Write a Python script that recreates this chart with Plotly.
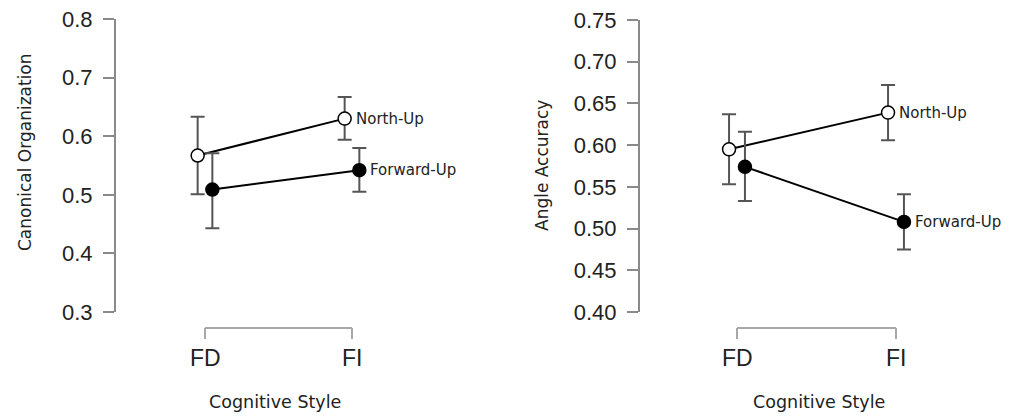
import plotly.graph_objects as go

# The page body has an 8px margin, so the figure is drawn 8px smaller and
# all pixel positions below (measured on the 1021x416 page) are shifted by it.
PAGE_W, PAGE_H = 1021, 416
OFF = 8
W, H = PAGE_W - OFF, PAGE_H - OFF

# ---------------- data ----------------
categories = ["FD", "FI"]
cat_pos = [0, 1]
dodge = 0.05

# Left panel: Canonical Organization
co_north = [0.567, 0.630]
co_north_hi = [0.633, 0.667]
co_north_lo = [0.501, 0.594]
co_forward = [0.509, 0.542]
co_forward_hi = [0.571, 0.580]
co_forward_lo = [0.443, 0.505]
co_ticks = [0.3, 0.4, 0.5, 0.6, 0.7, 0.8]

# Right panel: Angle Accuracy
aa_north = [0.595, 0.639]
aa_north_hi = [0.637, 0.672]
aa_north_lo = [0.553, 0.606]
aa_forward = [0.574, 0.508]
aa_forward_hi = [0.616, 0.541]
aa_forward_lo = [0.533, 0.475]
aa_ticks = [0.40, 0.45, 0.50, 0.55, 0.60, 0.65, 0.70, 0.75]

series_names = ["North-Up", "Forward-Up"]

# ---------------- layout geometry (page pixels) ----------------
L = dict(axis_x=116, fd_x=205, fi_x=352, right_x=495, y_top=19, y_bot=312)
R = dict(axis_x=640, fd_x=737, fi_x=896, right_x=1015, y_top=20, y_bot=312)
bracket_y = 328
bracket_tick = 11
label_y = 358

GRAY = "#8a8a8a"
BRACKET = "#a8a8a8"
TXT = "#222222"
TITLE_FONT = "DejaVu Sans"
TICK_FONT = "Liberation Sans"


def px_x(p):
    return (p - OFF) / W


def px_y(p):
    return 1 - (p - OFF) / H


def xrange_for(g):
    unit = g["fi_x"] - g["fd_x"]
    lo = -(g["fd_x"] - g["axis_x"]) / unit
    hi = (g["right_x"] - g["fd_x"]) / unit
    return [lo, hi]


fig = go.Figure()


def add_panel(xa, ya, vals_n, hi_n, lo_n, vals_f, hi_f, lo_f):
    for name, vals, hi, lo, fill, off in [
        (series_names[0], vals_n, hi_n, lo_n, "white", -dodge),
        (series_names[1], vals_f, hi_f, lo_f, "black", dodge),
    ]:
        xs = [c + off for c in cat_pos]
        fig.add_trace(go.Scatter(
            x=xs, y=vals, xaxis=xa, yaxis=ya, mode="lines+markers",
            name=name, showlegend=False,
            line=dict(color="black", width=2),
            marker=dict(size=13, color=fill, line=dict(color="black", width=1.5)),
            error_y=dict(type="data", symmetric=False,
                         array=[h - v for h, v in zip(hi, vals)],
                         arrayminus=[v - l for v, l in zip(vals, lo)],
                         color="#555555", thickness=2, width=7),
        ))
        fig.add_annotation(
            x=xs[-1], y=vals[-1], xref=xa, yref=ya, text=name,
            showarrow=False, xanchor="left", yanchor="middle", xshift=9,
            font=dict(family=TITLE_FONT, size=15, color=TXT),
        )
    # category bracket below the plot (drawn in data x coordinates)
    yb = px_y(bracket_y)
    yt = px_y(bracket_y + bracket_tick)
    fig.add_shape(type="line", xref=xa, yref="paper", x0=cat_pos[0], x1=cat_pos[-1],
                  y0=yb, y1=yb, line=dict(color=BRACKET, width=2))
    for c, lab in zip(cat_pos, categories):
        fig.add_shape(type="line", xref=xa, yref="paper", x0=c, x1=c,
                      y0=yb, y1=yt, line=dict(color=BRACKET, width=2))
        fig.add_annotation(x=c, y=px_y(label_y), xref=xa, yref="paper", text=lab,
                           showarrow=False, xanchor="center", yanchor="middle",
                           font=dict(family=TICK_FONT, size=23, color=TXT))


add_panel("x", "y", co_north, co_north_hi, co_north_lo,
          co_forward, co_forward_hi, co_forward_lo)
add_panel("x2", "y2", aa_north, aa_north_hi, aa_north_lo,
          aa_forward, aa_forward_hi, aa_forward_lo)

yaxis_common = dict(
    showline=True, linecolor=GRAY, linewidth=2,
    ticks="outside", ticklen=11, tickcolor=GRAY, tickwidth=2,
    showgrid=False, zeroline=False,
    tickfont=dict(family=TICK_FONT, size=22, color=TXT),
    ticklabelstandoff=6, ticklabeloverflow="allow",
)

fig.update_layout(
    width=W, height=H,
    margin=dict(l=0, r=0, t=0, b=0, autoexpand=False),
    paper_bgcolor="white", plot_bgcolor="white",
    xaxis=dict(domain=[px_x(L["axis_x"]), px_x(L["right_x"])], range=xrange_for(L),
               visible=False, anchor="y", fixedrange=True),
    yaxis=dict(domain=[px_y(L["y_bot"]), px_y(L["y_top"])], range=[0.3, 0.8],
               tickvals=co_ticks, tickformat=".1f", anchor="x", **yaxis_common),
    xaxis2=dict(domain=[px_x(R["axis_x"]), px_x(R["right_x"])], range=xrange_for(R),
                visible=False, anchor="y2", fixedrange=True),
    yaxis2=dict(domain=[px_y(R["y_bot"]), px_y(R["y_top"])], range=[0.40, 0.75],
                tickvals=aa_ticks, tickformat=".2f", anchor="x2", **yaxis_common),
)

# axis titles
for text, x, y, ang, size in [
    ("Canonical Organization", 25, 152, -90, 17),
    ("Angle Accuracy", 542, 166, -90, 17),
    ("Cognitive Style", 275, 402, 0, 17.5),
    ("Cognitive Style", 819, 402, 0, 17.5),
]:
    fig.add_annotation(
        x=px_x(x), y=px_y(y), xref="paper", yref="paper", text=text,
        showarrow=False, textangle=ang, xanchor="center", yanchor="middle",
        font=dict(family=TITLE_FONT, size=size, color=TXT),
    )

fig.write_html("out.html")
